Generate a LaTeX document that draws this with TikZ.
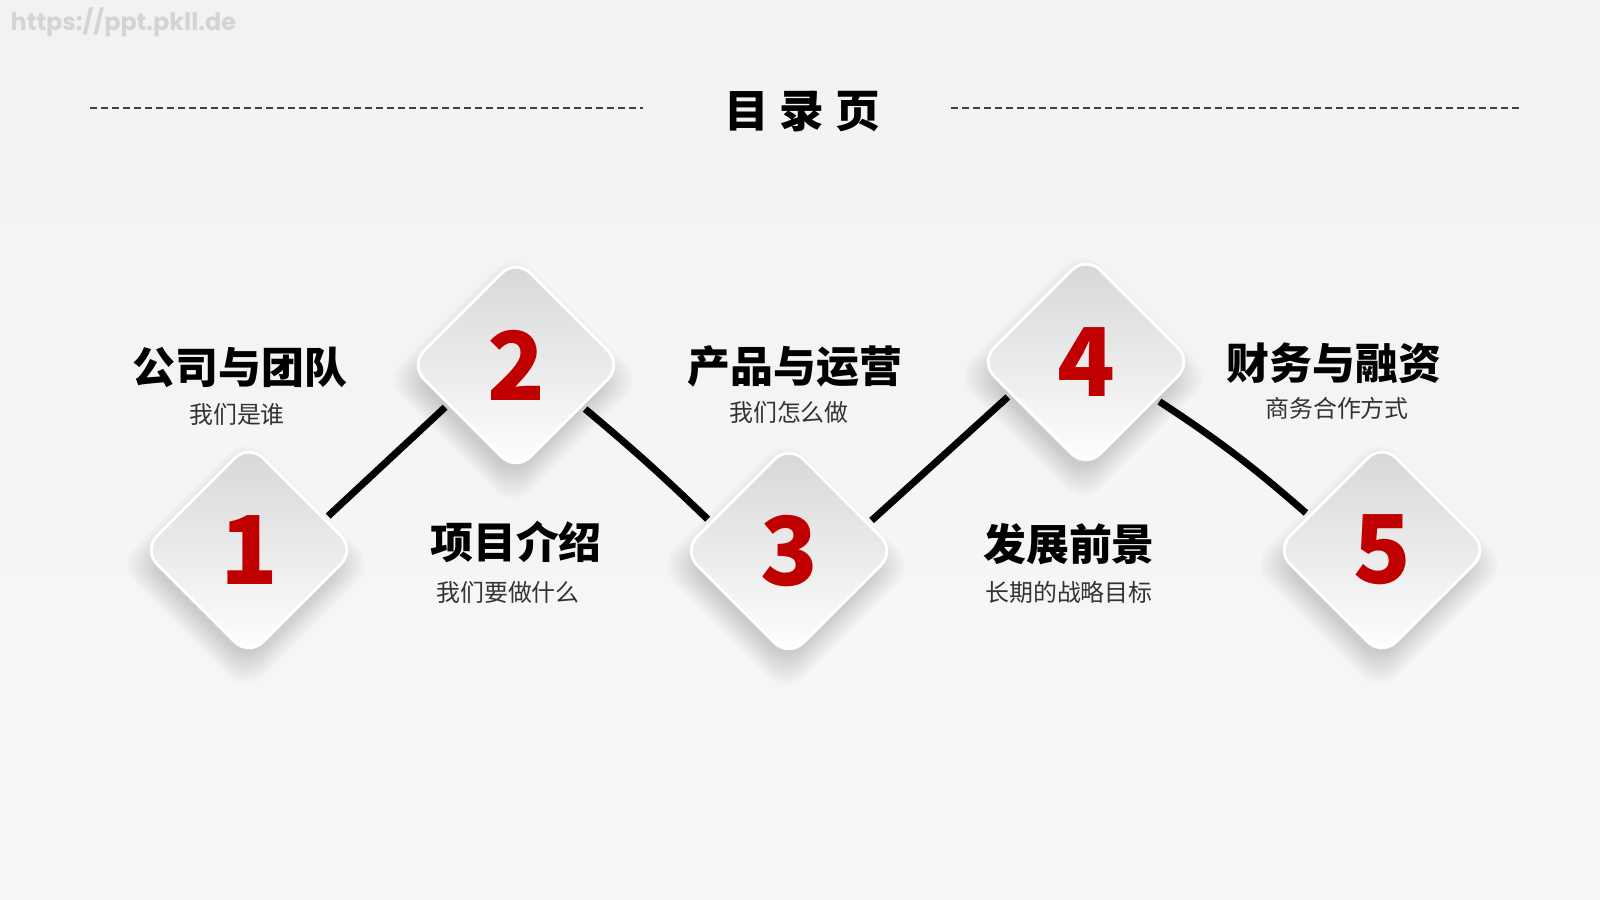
\documentclass[tikz,border=0pt]{standalone}
\usepackage{fontspec}
\newfontfamily\cjk{Noto Sans CJK SC}
\newfontfamily\wmfont{Poppins}
\usetikzlibrary{shapes.geometric,calc}
\definecolor{numred}{HTML}{C00000}
\definecolor{subgray}{HTML}{333333}
\definecolor{rulegray}{HTML}{404040}
\pgfdeclarelayer{bg}
\pgfdeclarelayer{shadowlayer}
\pgfdeclarelayer{connlayer}
\pgfsetlayers{bg,shadowlayer,connlayer,main}
\tikzset{
  dia/.style={diamond, aspect=1, minimum size=2.12cm, inner sep=0pt, outer sep=0pt,
    rounded corners=2mm, top color=black!16, bottom color=white, draw=white, line width=0.8pt,
    text=numred, font=\cjk\bfseries\fontsize{27}{27}\selectfont},
  head/.style={font=\cjk\bfseries\fontsize{12.2}{14}\selectfont, text=black, inner sep=0pt},
  subtxt/.style={font=\cjk\fontsize{6.8}{8}\selectfont, text=subgray, inner sep=0pt},
  conn/.style={line width=2pt, black, shorten <=0.5mm, shorten >=0.5mm},
  dashrule/.style={dash pattern=on 0.65mm off 0.45mm, line width=0.45pt, rulegray},
  shadowpart/.style={fill=black, opacity=0.011, rounded corners=2.4mm},
}
\begin{document}
\begin{tikzpicture}[x=0.01cm,y=0.01cm]
\useasboundingbox (0,0) rectangle (1600,-900);
\begin{pgfonlayer}{bg}
  \shade[top color=black!5, middle color=black!8, bottom color=black!3] (0,0) rectangle (1600,-900);
\end{pgfonlayer}

% watermark
\node[anchor=base west, inner sep=0pt, text=black!17, font=\wmfont\bfseries\fontsize{6.8}{8}\selectfont] (wm) at (10,-31) {https://ppt.pkll.de};

% title
\node[font=\cjk\bfseries\fontsize{12.7}{14}\selectfont, inner sep=0pt] (title) at (802,-112) {目\hspace{0.11cm}录\hspace{0.11cm}页};
\draw[dashrule] (90,-108) -- (643,-108);
\draw[dashrule] (951,-108) -- (1520,-108);

% diamonds
\node[dia] (d1) at (249,-550) {1};
\node[dia] (d2) at (516,-365) {2};
\node[dia] (d3) at (789,-551) {3};
\node[dia] (d4) at (1086,-362) {4};
\node[dia] (d5) at (1382,-550) {5};

% shadows
\begin{pgfonlayer}{shadowlayer}
  \foreach \d in {d1,d2,d3,d4,d5}{
    \foreach \k in {0,...,13}{
      \pgfmathsetmacro\h{98+2.4*\k}
      \fill[shadowpart] ($(\d.center)+(-3,-15)$) ++(0,\h) -- ++(\h,-\h) -- ++(-\h,-\h) -- ++(-\h,\h) -- cycle;
    }
  }
\end{pgfonlayer}

% connectors
\begin{pgfonlayer}{connlayer}
  \draw[conn] (d1.22) -- (d2.-150);
  \draw[conn] (d2.-32) to[bend left=2] (d3.160);
  \draw[conn] (d3.19) -- (d4.-157);
  \draw[conn] (d4.-28) to[bend left=4] (d5.155);
\end{pgfonlayer}

% labels
\node[head] (h1) at (240,-367) {公司与团队};
\node[subtxt] (s1) at (237,-414) {我们是谁};
\node[head] (h2) at (516,-542) {项目介绍};
\node[subtxt] (s2) at (508,-592) {我们要做什么};
\node[head] (h3) at (795,-366) {产品与运营};
\node[subtxt] (s3) at (789,-412) {我们怎么做};
\node[head] (h4) at (1069,-544) {发展前景};
\node[subtxt] (s4) at (1069,-592) {长期的战略目标};
\node[head] (h5) at (1334,-363) {财务与融资};
\node[subtxt] (s5) at (1337,-408) {商务合作方式};
\end{tikzpicture}
\end{document}
